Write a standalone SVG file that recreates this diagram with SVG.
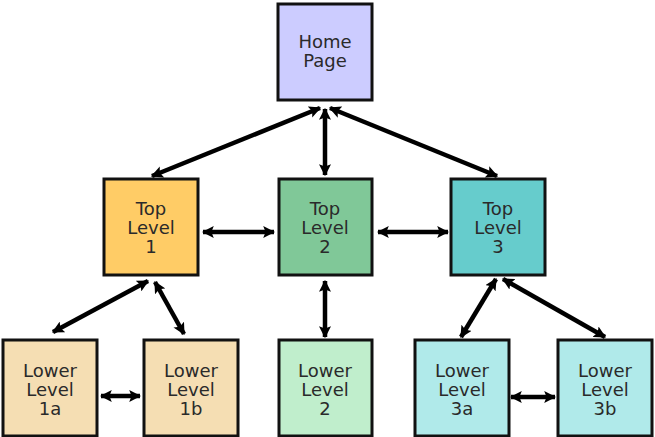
<svg xmlns="http://www.w3.org/2000/svg" width="655" height="437" viewBox="0 0 655 437">
<defs>
<marker id="ah" viewBox="0 0 10 10" refX="9" refY="5" markerWidth="12" markerHeight="12" markerUnits="userSpaceOnUse" orient="auto-start-reverse">
<path d="M0,0 L10,5 L0,10 L2,5 z" fill="#000"/>
</marker>
<style>
.box{stroke:#111;stroke-width:3}
.t{font-family:"DejaVu Sans","Verdana",sans-serif;font-size:18px;fill:#2a2a2a;text-anchor:middle}
.c{stroke:#000;stroke-width:4.5;fill:none;marker-start:url(#ah);marker-end:url(#ah)}
</style>
</defs>
<rect width="655" height="437" fill="#fff"/>
<g id="connectors">
<line class="c" x1="320" y1="108" x2="152" y2="176"/>
<line class="c" x1="330" y1="108" x2="497" y2="176"/>
<line class="c" x1="325" y1="109" x2="325" y2="175"/>
<line class="c" x1="203" y1="232" x2="274" y2="232"/>
<line class="c" x1="378" y1="232" x2="448" y2="232"/>
<line class="c" x1="148" y1="281" x2="53" y2="332"/>
<line class="c" x1="155" y1="282" x2="184" y2="334"/>
<line class="c" x1="101" y1="396" x2="140" y2="396"/>
<line class="c" x1="325" y1="281" x2="325" y2="337"/>
<line class="c" x1="496" y1="279" x2="461" y2="337"/>
<line class="c" x1="503" y1="279" x2="605" y2="337"/>
<line class="c" x1="511" y1="397" x2="555" y2="397"/>
</g>
<g id="home"><rect class="box" x="278" y="4" width="94" height="96" fill="#ccccff"/><text class="t" x="325" y="48">Home</text><text class="t" x="325" y="67">Page</text></g>
<g id="top1"><rect class="box" x="104" y="179" width="94" height="96" fill="#ffcc66"/><text class="t" x="151" y="215">Top</text><text class="t" x="151" y="234">Level</text><text class="t" x="151" y="253">1</text></g>
<g id="top2"><rect class="box" x="279" y="179" width="93" height="96" fill="#80c898"/><text class="t" x="325" y="215">Top</text><text class="t" x="325" y="234">Level</text><text class="t" x="325" y="253">2</text></g>
<g id="top3"><rect class="box" x="451" y="179" width="94" height="96" fill="#66cccc"/><text class="t" x="498" y="215">Top</text><text class="t" x="498" y="234">Level</text><text class="t" x="498" y="253">3</text></g>
<g id="low1a"><rect class="box" x="3" y="340" width="94" height="96" fill="#f5deb3"/><text class="t" x="50" y="377">Lower</text><text class="t" x="50" y="396">Level</text><text class="t" x="50" y="415">1a</text></g>
<g id="low1b"><rect class="box" x="144" y="340" width="94" height="96" fill="#f5deb3"/><text class="t" x="191" y="377">Lower</text><text class="t" x="191" y="396">Level</text><text class="t" x="191" y="415">1b</text></g>
<g id="low2"><rect class="box" x="279" y="340" width="93" height="96" fill="#c0eecc"/><text class="t" x="325" y="377">Lower</text><text class="t" x="325" y="396">Level</text><text class="t" x="325" y="415">2</text></g>
<g id="low3a"><rect class="box" x="415" y="340" width="94" height="96" fill="#b0eaea"/><text class="t" x="462" y="377">Lower</text><text class="t" x="462" y="396">Level</text><text class="t" x="462" y="415">3a</text></g>
<g id="low3b"><rect class="box" x="558" y="340" width="94" height="96" fill="#b0eaea"/><text class="t" x="605" y="377">Lower</text><text class="t" x="605" y="396">Level</text><text class="t" x="605" y="415">3b</text></g>
</svg>
